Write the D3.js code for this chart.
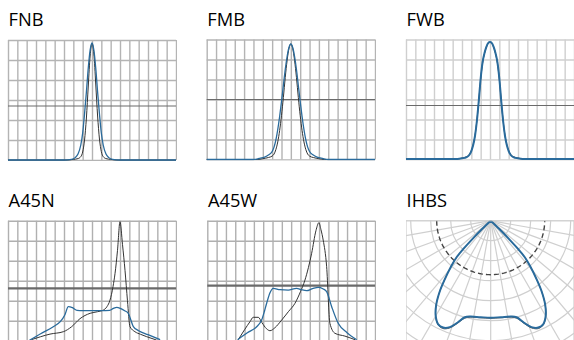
<!DOCTYPE html>
<html>
<head>
<meta charset="utf-8">
<script src="https://cdn.jsdelivr.net/npm/d3@7"></script>
<style>
  body { margin: 0; background: #fff; }
  svg { display: block; }
  text { font-family: "Open Sans", "Noto Sans", sans-serif; }
</style>
</head>
<body>
<script>
// angle (deg) / relative intensity pairs
let fnbBlue = [[-90,0],[-30,0],[-22,0.03],[-18,0.12],[-15,0.3],[-12,0.75],[-10,1.35],[-8,2.3],[-6,3.4],[-4,4.6],[-2,5.5],[0,5.85],[2,5.5],[4,4.6],[6,3.4],[8,2.3],[10,1.35],[12,0.75],[15,0.3],[18,0.12],[22,0.03],[30,0],[90,0]]
let fnbBlack = [[-90,0],[-28,0],[-20,0.03],[-15,0.07],[-12,0.17],[-10,0.4],[-8,1.0],[-6,2.1],[-4,3.7],[-2,5.2],[0,5.82],[2,5.3],[4,3.8],[6,2.2],[8,1.05],[10,0.42],[12,0.17],[15,0.07],[20,0.03],[28,0],[90,0]]
let fmbBlue = [[-90,0],[-40,0],[-34,0.05],[-28,0.12],[-24,0.22],[-20,0.4],[-18,0.62],[-16,0.98],[-14,1.5],[-12,2.15],[-10,2.9],[-8,3.7],[-6,4.5],[-4,5.15],[-2,5.6],[0,5.78],[2,5.6],[4,5.15],[6,4.5],[8,3.7],[10,2.9],[12,2.15],[14,1.5],[16,0.98],[18,0.62],[20,0.4],[24,0.22],[28,0.12],[34,0.05],[40,0],[90,0]]
let fmbBlack = [[-90,0],[-36,0],[-30,0.04],[-24,0.1],[-20,0.17],[-18,0.27],[-16,0.5],[-14,0.88],[-12,1.45],[-10,2.2],[-8,3.1],[-6,4.1],[-4,4.95],[-2,5.55],[0,5.78],[2,5.55],[4,4.95],[6,4.1],[8,3.1],[10,2.2],[12,1.45],[14,0.88],[16,0.5],[18,0.27],[20,0.17],[24,0.1],[30,0.04],[36,0],[90,0]]
let fwbBlue = [[-90,0.03],[-35,0.03],[-30,0.06],[-25,0.12],[-22,0.24],[-20,0.42],[-18,0.72],[-16,1.2],[-14,1.95],[-12,2.95],[-10,4.05],[-8,4.85],[-6,5.3],[-4,5.62],[-2,5.82],[0,5.87],[2,5.82],[4,5.62],[6,5.3],[8,4.85],[10,4.05],[12,2.95],[14,1.95],[16,1.2],[18,0.72],[20,0.42],[22,0.24],[25,0.12],[30,0.06],[35,0.03],[90,0.03]]
let fwbBlack = [[-90,0.03],[-35,0.03],[-30,0.07],[-25,0.14],[-22,0.26],[-20,0.45],[-18,0.75],[-16,1.22],[-14,1.97],[-12,2.95],[-10,4.0],[-8,4.8],[-6,5.28],[-4,5.6],[-2,5.8],[0,5.86],[2,5.8],[4,5.6],[6,5.28],[8,4.8],[10,4.0],[12,2.95],[14,1.97],[16,1.22],[18,0.75],[20,0.45],[22,0.26],[25,0.14],[30,0.07],[35,0.03],[90,0.03]]
let a45nBlue = [[-67,0.02],[-55,0.35],[-41.5,0.7],[-34,0.95],[-29,1.3],[-25.4,1.7],[-21,1.65],[-16,1.52],[-10,1.5],[0,1.5],[10,1.5],[19,1.52],[23,1.62],[26.5,1.67],[31,1.6],[35,1.5],[38.9,1.37],[41.5,1.05],[44.3,0.7],[50,0.5],[60,0.3],[73,0.05]]
let a45nBlack = [[-65,0.05],[-55,0.2],[-45,0.33],[-30.7,0.45],[-21.8,0.7],[-12.9,1.1],[-2,1.37],[6,1.45],[12.1,1.53],[16,1.7],[19.3,2.03],[22.5,2.7],[24.7,3.37],[27.3,4.5],[30,5.95],[32.7,4.8],[35.4,3.5],[38,2.0],[40.7,0.7],[46,0.45],[52,0.32],[58.6,0.2],[69.3,0.03]]
let a45wBlue = [[-57.4,0.05],[-47,0.4],[-37,0.7],[-31.7,1.03],[-28.5,1.5],[-26.3,1.87],[-22.7,2.4],[-19.2,2.62],[-12,2.55],[-3.1,2.53],[5.9,2.62],[11,2.55],[16.6,2.5],[23,2.6],[29.1,2.67],[34,2.6],[38.1,2.45],[43.5,1.7],[50.5,0.87],[60,0.4],[70.3,0.05]]
let a45wBlack = [[-56.8,0.05],[-50,0.55],[-44.2,0.95],[-40.7,1.17],[-35.3,1.17],[-31.3,0.9],[-26.5,0.6],[-22.7,0.5],[-17.4,0.65],[-10.2,1.03],[-3,1.45],[4.1,1.87],[10,2.45],[14.8,3.03],[18.5,3.65],[22,4.37],[26.6,5.5],[29.8,5.9],[32,5.55],[34.4,5.03],[38.1,3.7],[41.6,0.87],[47,0.37],[57.7,0.23],[68.5,0.05]]
let ihbsBlue = [[-47,0],[-46,0.6],[-45,1.3],[-44,2.0],[-43,2.5],[-41,3.0],[-38,3.75],[-36,4.3],[-33,5.0],[-30,5.5],[-27,5.8],[-24,5.85],[-21,5.7],[-18,5.35],[-15,5.0],[-12,4.9],[-6,4.85],[0,4.85],[6,4.85],[12,4.9],[15,5.0],[18,5.35],[21,5.7],[24,5.85],[27,5.8],[30,5.5],[33,5.0],[36,4.3],[38,3.75],[41,3.0],[43,2.5],[44,2.0],[45,1.3],[46,0.6],[47,0]]
let ihbsBlack = [[-47,0],[-46,0.6],[-45,1.3],[-44,2.0],[-43,2.5],[-41,3.0],[-38,3.75],[-36,4.3],[-33,5.0],[-30,5.5],[-27,5.82],[-24,5.9],[-21,5.75],[-18,5.4],[-15,5.05],[-12,4.93],[-6,4.88],[0,4.88],[6,4.88],[12,4.93],[15,5.05],[18,5.4],[21,5.75],[24,5.9],[27,5.82],[30,5.5],[33,5.0],[36,4.3],[38,3.75],[41,3.0],[43,2.5],[44,2.0],[45,1.3],[46,0.6],[47,0]]

let titles = ['FNB', 'FMB', 'FWB', 'A45N', 'A45W', 'IHBS']
let refLevels = [2.7, 3.0, 2.7, 2.62, 2.75, 2.7]
let angleTicks = d3.range(-90, 91, 10)
let valueTicks = d3.range(0, 7, 1)

let blue = '#2a6b9c'
let black = '#333'

let svg = d3.select('body').append('svg')
    .attr('width', 574)
    .attr('height', 340)

let panels = [
    {x: 8, y: 40, w: 168, blue: fnbBlue, black: fnbBlack, grid: '#b4b4b4', bw: 1.3, refW: 1.2},
    {x: 206.7, y: 39.5, w: 168.3, blue: fmbBlue, black: fmbBlack, grid: '#b4b4b4', bw: 1.3, refW: 1.2},
    {x: 406, y: 39.5, w: 168, blue: fwbBlue, black: fwbBlack, grid: '#cfcfcf', bw: 2, refW: 1.2},
    {x: 8, y: 220.7, w: 168, blue: a45nBlue, black: a45nBlack, grid: '#b0b0b0', bw: 1.3, refW: 2.2},
    {x: 207.3, y: 220.7, w: 167.7, blue: a45wBlue, black: a45wBlack, grid: '#b0b0b0', bw: 1.3, refW: 2.2}
]

let drawPanel = (p, i) => {
    let h = 120
    let x = d3.scaleLinear().domain([-90, 90]).range([p.x, p.x + p.w])
    let y = d3.scaleLinear().domain([0, 6]).range([p.y + h, p.y])

    let clipId = 'clip' + i
    svg.append('clipPath').attr('id', clipId)
        .append('rect')
        .attr('x', p.x - 1).attr('y', p.y - 1)
        .attr('width', p.w + 2).attr('height', h + 2)

    let g = svg.append('g').attr('clip-path', 'url(#' + clipId + ')')

    // grid through axes
    g.append('g')
        .attr('transform', 'translate(0,' + (p.y + h) + ')')
        .call(d3.axisBottom(x).tickValues(angleTicks).tickSize(-h).tickFormat(''))
        .call(ax => ax.select('.domain').remove())
        .selectAll('line').attr('stroke', p.grid).attr('stroke-width', 1.4)
    g.append('g')
        .attr('transform', 'translate(' + p.x + ',0)')
        .call(d3.axisLeft(y).tickValues(valueTicks).tickSize(-p.w).tickFormat(''))
        .call(ax => ax.select('.domain').remove())
        .selectAll('line').attr('stroke', p.grid).attr('stroke-width', 1.4)

    // reference level
    g.append('line')
        .attr('x1', p.x).attr('x2', p.x + p.w)
        .attr('y1', y(refLevels[i])).attr('y2', y(refLevels[i]))
        .attr('stroke', '#6a6a6a')
        .attr('stroke-width', p.refW)

    let line = d3.line()
        .x(d => x(d[0]))
        .y(d => y(d[1]))
        .curve(d3.curveMonotoneX)

    g.append('path')
        .attr('d', line(p.black))
        .attr('fill', 'none')
        .attr('stroke', black)
        .attr('stroke-width', 1)
    g.append('path')
        .attr('d', line(p.blue))
        .attr('fill', 'none')
        .attr('stroke', blue)
        .attr('stroke-width', p.bw)

    svg.append('text')
        .attr('x', p.x + 0.6)
        .attr('y', p.y - 13.6)
        .attr('font-size', 18.3)
        .attr('fill', '#000')
        .text(titles[i])
}

panels.forEach(drawPanel)

// polar panel (IHBS)
let drawPolar = () => {
    let bx = 406, by = 220.7, bw = 168, bh = 120
    let cx = 490.7, cy = 220.7
    let r = d3.scaleLinear().domain([0, 1]).range([0, 20])

    svg.append('clipPath').attr('id', 'clipPolar')
        .append('rect')
        .attr('x', bx).attr('y', by - 0.5)
        .attr('width', bw).attr('height', bh)

    let g = svg.append('g').attr('clip-path', 'url(#clipPolar)')
    let c = g.append('g').attr('transform', 'translate(' + cx + ',' + cy + ')')

    c.selectAll('circle.ring')
        .data(d3.range(1, 11))
        .enter()
        .append('circle')
        .attr('class', 'ring')
        .attr('r', d => r(d))
        .attr('fill', 'none')
        .attr('stroke', '#cfcfcf')
        .attr('stroke-width', 1.2)

    let rad = d3.lineRadial()
        .angle(d => Math.PI - d[0] * Math.PI / 180)
        .radius(d => r(d[1]))

    c.selectAll('path.spoke')
        .data(d3.range(-90, 91, 10))
        .enter()
        .append('path')
        .attr('class', 'spoke')
        .attr('d', a => rad([[a, 0], [a, 12]]))
        .attr('stroke', '#cfcfcf')
        .attr('stroke-width', 1.2)

    g.append('rect')
        .attr('x', bx).attr('y', by)
        .attr('width', bw).attr('height', bh)
        .attr('fill', 'none')
        .attr('stroke', '#cfcfcf')
        .attr('stroke-width', 1.2)

    c.append('path')
        .attr('d', rad(d3.range(-90, 91, 2).map(a => [a, refLevels[5]])))
        .attr('fill', 'none')
        .attr('stroke', '#444')
        .attr('stroke-width', 1.4)
        .attr('stroke-dasharray', '5,3')

    let curve = d3.lineRadial()
        .angle(d => Math.PI - d[0] * Math.PI / 180)
        .radius(d => r(d[1]))
        .curve(d3.curveCatmullRom)

    c.append('path')
        .attr('d', curve(ihbsBlack))
        .attr('fill', 'none')
        .attr('stroke', '#555')
        .attr('stroke-width', 1)
    c.append('path')
        .attr('d', curve(ihbsBlue))
        .attr('fill', 'none')
        .attr('stroke', blue)
        .attr('stroke-width', 2)

    svg.append('text')
        .attr('x', bx + 0.6)
        .attr('y', by - 13.4)
        .attr('font-size', 18.3)
        .attr('fill', '#000')
        .text(titles[5])
}

drawPolar()
</script>
</body>
</html>
